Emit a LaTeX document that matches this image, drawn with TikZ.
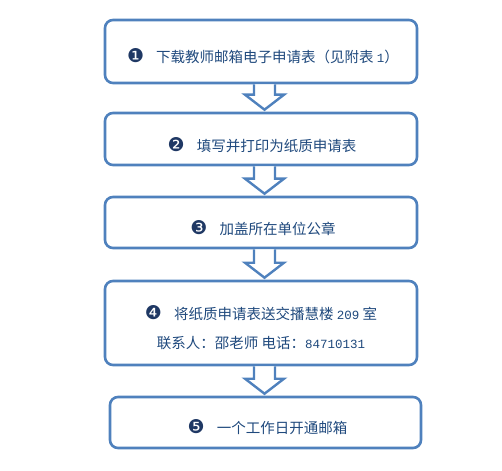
\documentclass[tikz,border=0pt]{standalone}
\usepackage{fontspec}
\setmainfont{Noto Sans CJK SC}
\newfontfamily\numfont{DejaVu Sans}
\newfontfamily\monofont{Liberation Mono}
\usetikzlibrary{calc}
\definecolor{boxblue}{HTML}{4F81BD}
\definecolor{txtblue}{HTML}{1F497D}
\definecolor{numblue}{HTML}{1F3864}
\newcommand{\cnum}[1]{{\numfont\fontsize{19}{19}\selectfont\color{numblue}#1}\hspace{12pt}}
\newcommand{\dg}[1]{{\monofont\fontsize{12.5}{14}\selectfont #1}}
\newcommand{\blockarr}[2]{%
  \draw[arrowstyle] let \p1=(#1.south), \p2=(#2.north) in
    ({\x1+3.5pt-10.5pt},{\y1}) -- ({\x1+3.5pt-10.5pt},{\y2+17pt}) --
    ({\x1+3.5pt-19.5pt},{\y2+17pt}) -- ({\x1+3.5pt},{\y2+2pt}) --
    ({\x1+3.5pt+19.5pt},{\y2+17pt}) -- ({\x1+3.5pt+10.5pt},{\y2+17pt}) --
    ({\x1+3.5pt+10.5pt},{\y1});}
\tikzset{
  stepbox/.style={draw=boxblue, line width=2.6pt, rounded corners=8pt, fill=white,
    minimum width=312pt, inner sep=0pt},
  steptext/.style={text=txtblue, font=\fontsize{14.5}{29}\selectfont, align=center, inner sep=0pt},
  arrowstyle/.style={draw=boxblue, line width=2.4pt, fill=white, line join=miter},
}
\begin{document}
\begin{tikzpicture}[x=1pt,y=1pt]
\useasboundingbox (0,0) rectangle (502,-470);
\node[stepbox, minimum height=63pt] (b1) at (261,-51.5) {};
\node[stepbox, minimum height=52pt] (b2) at (261,-139) {};
\node[stepbox, minimum height=51pt] (b3) at (261,-222.5) {};
\node[stepbox, minimum height=84pt] (b4) at (261,-323) {};
\node[stepbox, minimum height=51pt, minimum width=311pt] (b5) at (265.5,-422.5) {};
\node[steptext] (t1) at ($(b1.center)+(2,-4.5)$)
  {\cnum{❶}下载教师邮箱电子申请表（见附表 \dg{1}）};
\node[steptext] (t2) at ($(b2.center)+(1,-6)$)
  {\cnum{❷}填写并打印为纸质申请表};
\node[steptext] (t3) at ($(b3.center)+(2,-5.5)$)
  {\cnum{❸}加盖所在单位公章};
\node[steptext] (t4) at ($(b4.center)+(0,-4.5)$)
  {\cnum{❹}将纸质申请表送交播慧楼 \dg{209} 室\\联系人：邵老师 电话：\dg{84710131}};
\node[steptext] (t5) at ($(b5.center)+(2,-4.5)$)
  {\cnum{❺}一个工作日开通邮箱};
\blockarr{b1}{b2}
\blockarr{b2}{b3}
\blockarr{b3}{b4}
\blockarr{b4}{b5}
\end{tikzpicture}
\end{document}
